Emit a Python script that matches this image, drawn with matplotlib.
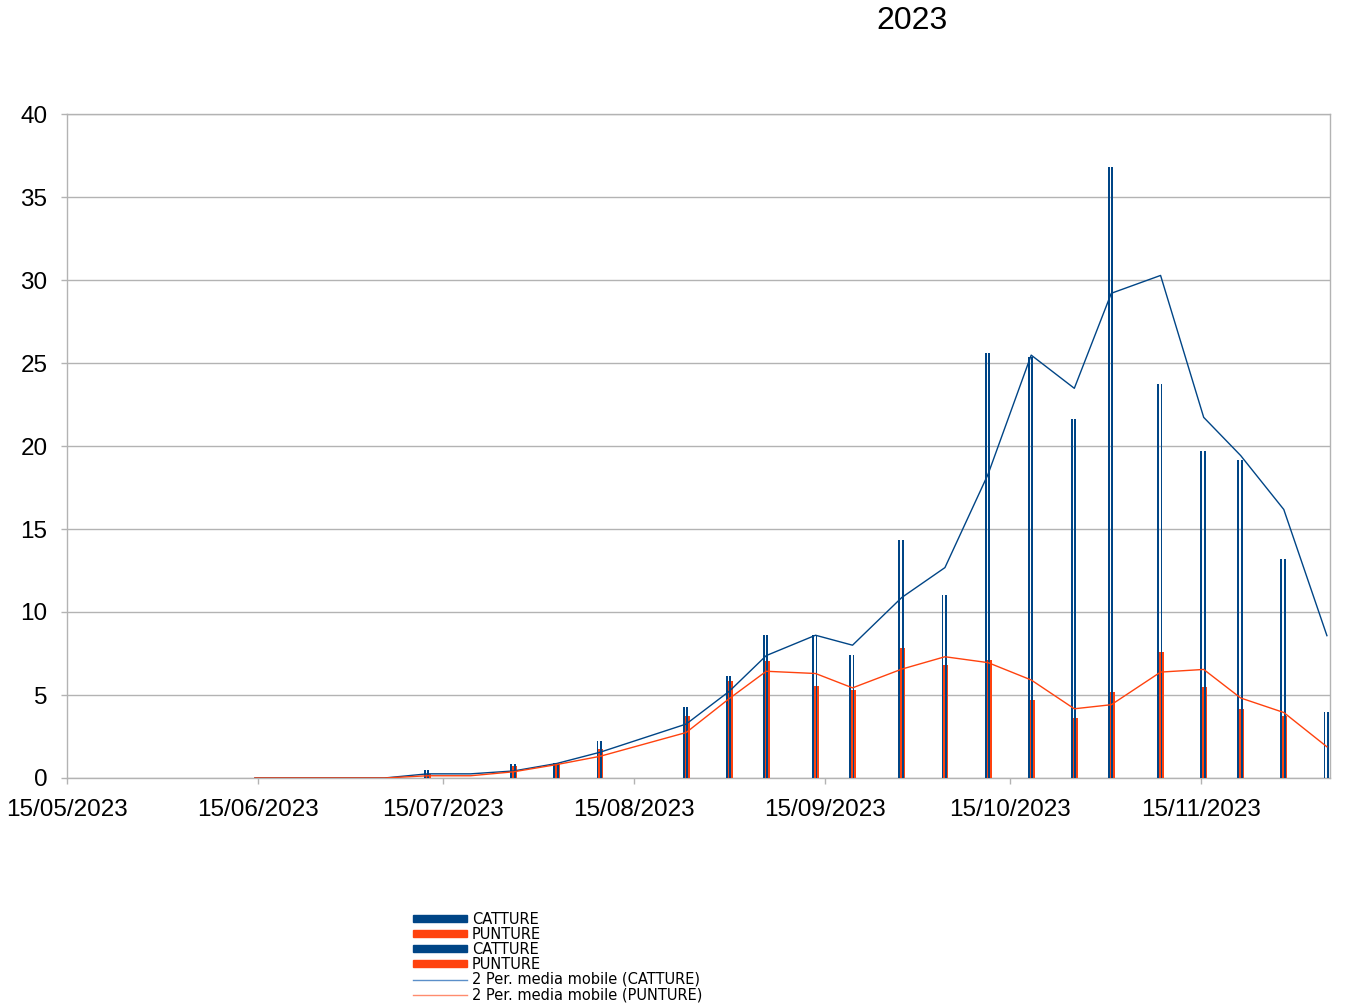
import matplotlib
matplotlib.use("Agg")
from matplotlib import pyplot as plt
import matplotlib.dates as mdates
from matplotlib.patches import Patch
from matplotlib.lines import Line2D
import numpy as np
import pandas as pd

# sampling dates and values
dates = ['15/05/2023', '14/06/2023', '21/06/2023', '28/06/2023', '05/07/2023',
         '12/07/2023', '19/07/2023', '26/07/2023', '02/08/2023', '09/08/2023',
         '23/08/2023', '30/08/2023', '05/09/2023', '13/09/2023', '19/09/2023',
         '27/09/2023', '04/10/2023', '11/10/2023', '18/10/2023', '25/10/2023',
         '31/10/2023', '08/11/2023', '15/11/2023', '21/11/2023', '28/11/2023',
         '05/12/2023']
catture = [0, 0, 0, 0, 0,
           0.5, 0, 0.85, 0.9, 2.2,
           4.3, 6.15, 8.6, 8.6, 7.4,
           14.35, 11.0, 25.6, 25.35, 21.6,
           36.8, 23.75, 19.7, 19.15, 13.2,
           3.95]
punture = [0, 0, 0, 0, 0,
           0.27, 0, 0.75, 0.87, 1.74,
           3.74, 5.83, 7.03, 5.56, 5.3,
           7.82, 6.79, 7.11, 4.7, 3.64,
           5.19, 7.57, 5.51, 4.13, 3.76,
           0]

BLUE = '#004586'
ORANGE = '#ff420e'
GRID = '#b3b3b3'
NARROW = ['Liberation Sans Narrow', 'Liberation Sans', 'DejaVu Sans']

df = pd.DataFrame({'CATTURE': catture, 'PUNTURE': punture},
                  index=pd.to_datetime(dates, format='%d/%m/%Y'))
# groups sit in the middle of the day
x = mdates.date2num(df.index.to_pydatetime()) + 0.5

fig = plt.figure(figsize=(13.47, 10.07), dpi=100)
ax = fig.add_axes([67 / 1347, 1 - 778 / 1007, (1330 - 67) / 1347, (778 - 114) / 1007])

w = 0.3
offsets = [-0.4, -0.12, 0.16, 0.42]
series = [('CATTURE', BLUE), ('PUNTURE', ORANGE), ('CATTURE', BLUE), ('PUNTURE', ORANGE)]
for off, (name, col) in zip(offsets, series):
    ax.bar(x + off, df[name], width=w, color=col, linewidth=0,
           zorder=4 if name == 'CATTURE' else 3)

# 2 period moving average trendlines
ma = df.rolling(2).mean()
ax.plot(x[1:], ma['CATTURE'][1:], color=BLUE, lw=1.0, zorder=5)
ax.plot(x[1:], ma['PUNTURE'][1:], color=ORANGE, lw=1.0, zorder=5)

ax.set_xlim(mdates.date2num(pd.Timestamp('2023-05-15')), mdates.date2num(pd.Timestamp('2023-12-06')))
ax.set_ylim(0, 40)
ax.set_yticks(np.arange(0, 41, 5))
ax.xaxis.set_major_locator(mdates.MonthLocator(bymonthday=15))
ax.xaxis.set_major_formatter(mdates.DateFormatter('%d/%m/%Y'))

ax.grid(axis='y', color=GRID, lw=1.0, zorder=0)
for sp in ax.spines.values():
    sp.set_color(GRID)
    sp.set_linewidth(1.0)
ax.tick_params(axis='both', color=GRID, length=4, width=1, direction='out')
ax.tick_params(axis='x', pad=11)
ax.tick_params(axis='y', pad=10)
for lab in ax.get_xticklabels() + ax.get_yticklabels():
    lab.set_family(NARROW)
    lab.set_fontsize(17.5)

fig.text(912 / 1347, 1 - 21 / 1007, '2023', ha='center', va='center',
         family=NARROW, fontsize=23)

handles = [Patch(color=BLUE), Patch(color=ORANGE), Patch(color=BLUE), Patch(color=ORANGE),
           Line2D([], [], color='#5b8fc9', lw=1), Line2D([], [], color='#ff8c6e', lw=1)]
labels = ['CATTURE', 'PUNTURE', 'CATTURE', 'PUNTURE',
          '2 Per. media mobile (CATTURE)', '2 Per. media mobile (PUNTURE)']
fig.legend(handles, labels, loc='upper left', bbox_to_anchor=(413 / 1347, 1 - 912 / 1007),
           frameon=False, prop={'family': ['DejaVu Sans'], 'size': 10.5},
           handlelength=3.7, handleheight=0.4, labelspacing=0.0, handletextpad=0.35,
           borderpad=0, borderaxespad=0)

fig.savefig('out.png', dpi=100)
